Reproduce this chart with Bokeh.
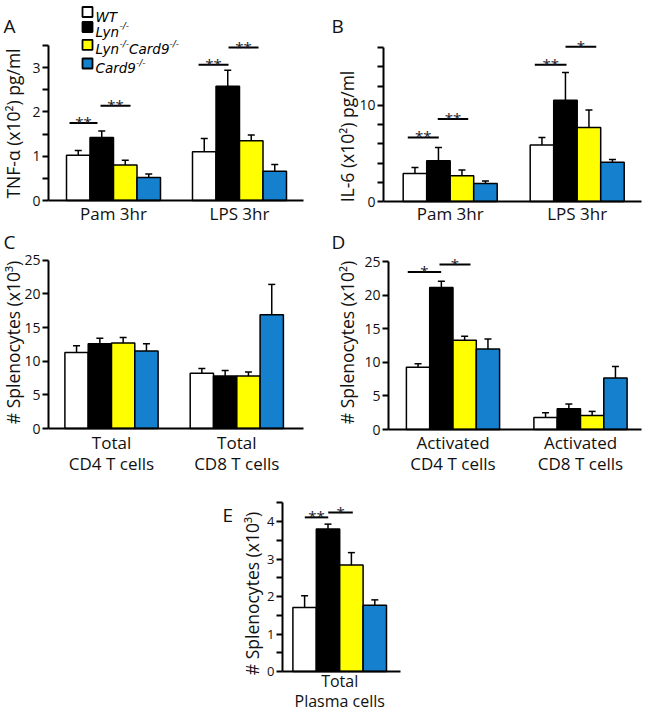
import re
import math
from bokeh.plotting import figure
from bokeh.models import Range1d, FixedTicker, Label, ColumnDataSource, LinearAxis
from bokeh.layouts import column, row
from bokeh.embed import file_html
from bokeh.resources import INLINE
from bokeh.core.properties import value

# ---------------- data ----------------
series = ["WT", "Lyn-/-", "Lyn-/-Card9-/-", "Card9-/-"]
colors = ["#FFFFFF", "#000000", "#FFFF00", "#1580CE"]

A_groups = ["Pam 3hr", "LPS 3hr"]
A_pam_mean = [1.02, 1.42, 0.80, 0.52]
A_pam_err = [0.11, 0.15, 0.11, 0.08]
A_lps_mean = [1.10, 2.58, 1.35, 0.66]
A_lps_err = [0.30, 0.36, 0.13, 0.15]
A_sig = [(-0.349, -0.127, 1.75, "**"), (-0.103, 0.135, 2.14, "**"),
         (0.675, 0.913, 3.06, "**"), (0.913, 1.151, 3.45, "**")]

B_groups = ["Pam 3hr", "LPS 3hr"]
B_pam_mean = [2.91, 4.23, 2.67, 1.87]
B_pam_err = [0.62, 1.38, 0.59, 0.25]
B_lps_mean = [5.86, 10.53, 7.69, 4.09]
B_lps_err = [0.79, 2.87, 1.81, 0.27]
B_sig = [(-0.334, -0.090, 6.65, "**"), (-0.098, 0.142, 8.56, "**"),
         (0.666, 0.916, 14.2, "**"), (0.908, 1.150, 16.07, "*")]

C_groups = ["Total\nCD4 T cells", "Total\nCD8 T cells"]
C_cd4_mean = [11.3, 12.6, 12.7, 11.5]
C_cd4_err = [1.0, 0.8, 0.8, 1.1]
C_cd8_mean = [8.2, 7.8, 7.8, 16.9]
C_cd8_err = [0.7, 0.8, 0.6, 4.5]
C_sig = []

D_groups = ["Activated\nCD4 T cells", "Activated\nCD8 T cells"]
D_cd4_mean = [9.3, 21.2, 13.3, 12.0]
D_cd4_err = [0.5, 0.9, 0.6, 1.5]
D_cd8_mean = [1.8, 3.1, 2.1, 7.7]
D_cd8_err = [0.7, 0.7, 0.6, 1.7]
D_sig = [(-0.355, -0.093, 23.5, "*"), (-0.106, 0.137, 24.6, "*")]

E_groups = ["Total\nPlasma cells"]
E_pc_mean = [1.71, 3.80, 2.84, 1.77]
E_pc_err = [0.31, 0.13, 0.33, 0.14]
E_sig = [(-0.277, -0.091, 4.11, "**"), (-0.091, 0.104, 4.24, "*")]

A_ticks = [0, 0.5, 1, 1.5, 2, 2.5, 3, 3.5]
B_ticks = [0, 2, 4, 6, 8, 10, 12, 14, 16]
B_labeled = [0, 10]
C_ticks = [0, 5, 10, 15, 20, 25]
D_ticks = [0, 5, 10, 15, 20, 25]
E_ticks = [0, 0.5, 1, 1.5, 2, 2.5, 3, 3.5, 4, 4.5]

FONT = "Open Sans"


def panel(fig_box, frame, ppu, gc0, gsp, bw_px, groups, means, errs, ticks,
          labeled, ylabel, ylabel_pos, letter, letter_pos, sig,
          tick_size="14px", cat_size="17px", cat_standoff=2, cat_lh=0.95):
    fx, fy, fw, fh = fig_box
    L, R, B = frame

    def X(px):
        return (px - gc0) / gsp

    def Y(py):
        return (B - py) / ppu

    p = figure(width=fw, height=fh, x_range=Range1d(X(fx), X(fx + fw)),
               y_range=Range1d(Y(fy + fh), Y(fy)), output_backend="svg",
               toolbar_location=None, x_axis_location=None,
               y_axis_location=None, min_border_left=0, min_border_right=0,
               min_border_top=0, min_border_bottom=0)
    p.xgrid.visible = False
    p.ygrid.visible = False
    p.outline_line_color = None
    p.background_fill_color = "white"
    p.border_fill_color = "white"

    ya = LinearAxis(fixed_location=X(L))
    ya.ticker = FixedTicker(ticks=ticks)
    ya.major_label_overrides = {t: ("" if t not in labeled else str(t))
                                for t in ticks}
    ya.bounds = (0, ticks[-1])
    ya.axis_line_width = 2
    ya.major_tick_line_width = 2
    ya.major_tick_out = 6
    ya.major_tick_in = 0
    ya.minor_tick_line_color = None
    ya.major_label_text_font = FONT
    ya.major_label_text_font_size = tick_size
    ya.major_label_text_color = "#111111"
    ya.major_label_standoff = 2
    p.add_layout(ya, "left")

    xa = LinearAxis(fixed_location=0)
    xa.ticker = FixedTicker(ticks=list(range(len(groups))))
    xa.major_label_overrides = {i: g for i, g in enumerate(groups)}
    xa.bounds = (X(L), X(R))
    xa.major_tick_line_color = None
    xa.major_tick_out = 0
    xa.major_tick_in = 0
    xa.minor_tick_line_color = None
    xa.axis_line_width = 2
    xa.major_label_text_font = FONT
    xa.major_label_text_font_size = cat_size
    xa.major_label_text_color = "#111111"
    xa.major_label_standoff = cat_standoff
    xa.major_label_text_line_height = cat_lh
    p.add_layout(xa, "below")

    bw = bw_px / gsp
    cap = 7.0 / gsp
    xs, tops, cols, tips = [], [], [], []
    for g, (m, e) in enumerate(zip(means, errs)):
        for i in range(4):
            xs.append(g + (i - 1.5) * bw)
            tops.append(m[i])
            cols.append(colors[i])
            tips.append(m[i] + e[i])
    src = ColumnDataSource(dict(x=xs, top=tops, color=cols, tip=tips,
                                cl=[x - cap / 2 for x in xs],
                                cr=[x + cap / 2 for x in xs]))
    p.segment(x0="x", y0="top", x1="x", y1="tip", line_width=1.5,
              line_color="black", source=src)
    p.segment(x0="cl", y0="tip", x1="cr", y1="tip", line_width=1.5,
              line_color="black", source=src)
    p.vbar(x="x", top="top", bottom=0, width=bw, fill_color="color",
           line_color="black", line_width=1.5, source=src)

    if sig:
        ssrc = ColumnDataSource(dict(
            x0=[s[0] for s in sig], x1=[s[1] for s in sig],
            y=[s[2] for s in sig], t=[s[3] for s in sig],
            xm=[(s[0] + s[1]) / 2 for s in sig],
            yt=[s[2] + 1.0 / ppu for s in sig]))
        p.segment(x0="x0", y0="y", x1="x1", y1="y", line_width=2,
                  line_color="black", source=ssrc)
        p.text(x="xm", y="yt", text="t", text_align="center",
               text_baseline="alphabetic", text_font=value(FONT),
               text_font_size="15px", text_color="#1a1a2a", source=ssrc)

    p.add_layout(Label(x=X(ylabel_pos[0]), y=Y(ylabel_pos[1]), text=ylabel,
                       angle=math.pi / 2, text_align="center",
                       text_baseline="middle", text_font=FONT,
                       text_font_size="17.5px", text_color="#111111"))
    p.add_layout(Label(x=X(letter_pos[0]), y=Y(letter_pos[1]), text=letter,
                       text_align="left", text_baseline="middle",
                       text_font=FONT, text_font_size="19px",
                       text_color="#111111"))
    return p, X, Y


pA, XA, YA = panel((0, 0, 320, 228), (48, 303, 200), 44.33, 113, 126, 23.5,
                   A_groups, [A_pam_mean, A_lps_mean], [A_pam_err, A_lps_err],
                   A_ticks, [0, 1, 2, 3], "TNF-\u03b1 (x10\u00b2) pg/ml",
                   (12.5, 123), "A", (3, 25), A_sig, cat_standoff=1)
pB, XB, YB = panel((320, 0, 326, 228), (383, 641, 201), 9.625, 449.7, 127,
                   23.5, B_groups, [B_pam_mean, B_lps_mean],
                   [B_pam_err, B_lps_err], B_ticks, B_labeled,
                   "IL-6 (x10\u00b2) pg/ml", (346.5, 136), "B", (331, 25),
                   B_sig, cat_standoff=0)
pC, XC, YC = panel((0, 228, 320, 250), (48, 303, 428), 6.733, 111, 125.3,
                   23.3, C_groups, [C_cd4_mean, C_cd8_mean],
                   [C_cd4_err, C_cd8_err], C_ticks, C_ticks,
                   "# Splenocytes (x10\u00b3)", (12.5, 342), "C", (3, 241),
                   C_sig, cat_standoff=2)
pD, XD, YD = panel((320, 228, 326, 250), (388, 641, 429), 6.704, 452.5,
                   127.5, 23.3, D_groups, [D_cd4_mean, D_cd8_mean],
                   [D_cd4_err, D_cd8_err], D_ticks, D_ticks,
                   "# Splenocytes (x10\u00b2)", (346, 342), "D", (331, 241),
                   D_sig, cat_standoff=1)
pE, XE, YE = panel((0, 478, 646, 237), (282, 400, 671), 37.5, 339.2, 126,
                   23.4, E_groups, [E_pc_mean], [E_pc_err], E_ticks,
                   [0, 1, 2, 3, 4], "# Splenocytes (x10\u00b3)", (251, 593),
                   "E", (222, 514), E_sig, tick_size="13px", cat_size="16px",
                   cat_standoff=-2, cat_lh=0.95)

# ---------------- legend (inside panel A) ----------------
cw = {"W": 0.989, "T": 0.611, "L": 0.557, "y": 0.592, "n": 0.634,
      "C": 0.698, "a": 0.613, "r": 0.411, "d": 0.635, "9": 0.636,
      "-": 0.361, "/": 0.337}
row_y = [11.5, 26.5, 44.3, 63]
main_size, sup_size = 13.5, 9
for i, name in enumerate(series):
    py = row_y[i]
    pA.scatter(x=[XA(87)], y=[YA(py)], marker="square", size=10,
               fill_color=colors[i], line_color="black", line_width=1.8)
    px = 95.0
    for seg in [s for s in re.split(r"(-/-)", name) if s]:
        sup = seg == "-/-"
        size = sup_size if sup else main_size
        base = py + 4.5 - (5.5 if sup else 0)
        pA.text(x=[XA(px)], y=[YA(base)], text=[seg], text_align="left",
                text_baseline="alphabetic", text_font=value("DejaVu Sans"),
                text_font_style="italic", text_font_size=f"{size}px",
                text_color="black")
        px += sum(cw.get(c, 0.6) for c in seg) * size

layout = column(row(pA, pB, spacing=0), row(pC, pD, spacing=0), pE,
                spacing=0)
open("out.html", "w").write(file_html(layout, INLINE))
